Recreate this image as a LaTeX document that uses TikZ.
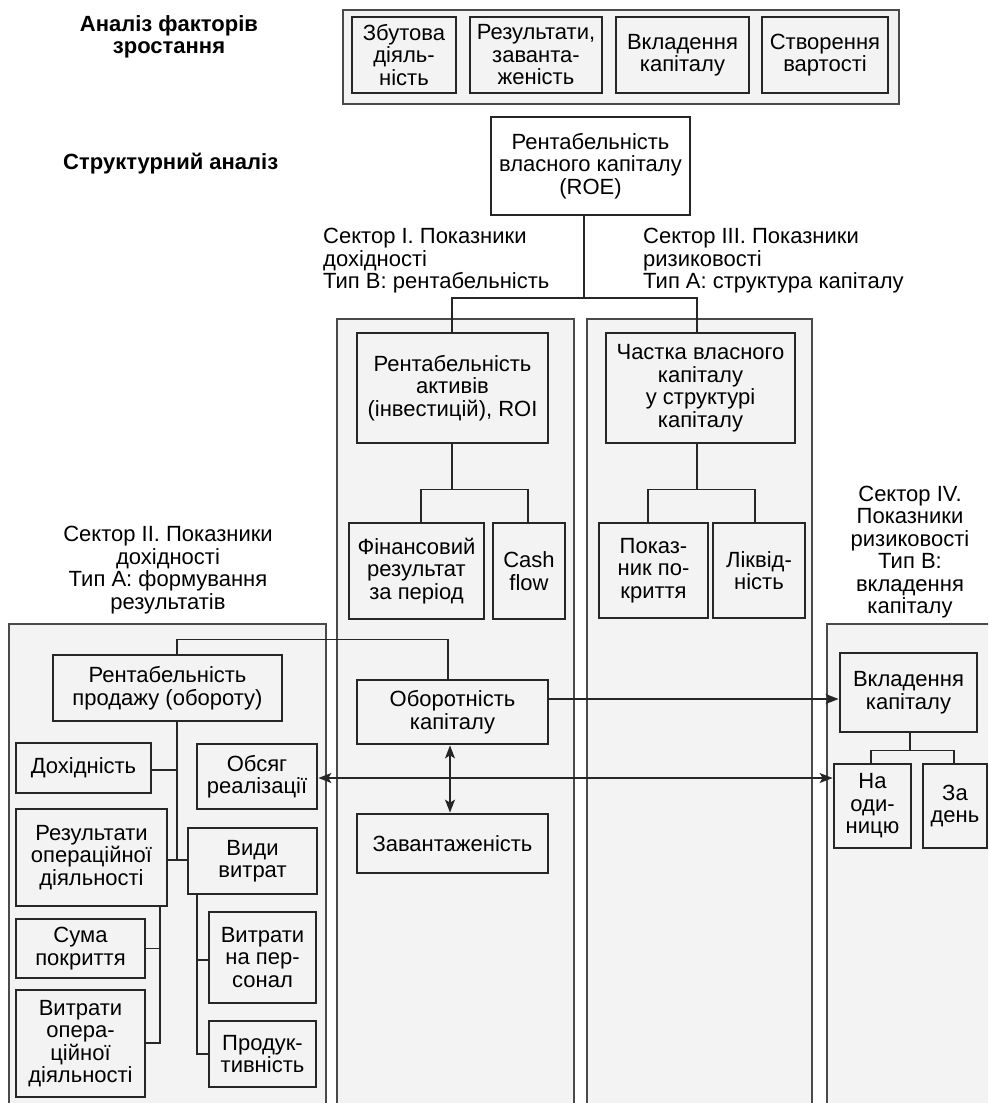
\documentclass[tikz,border=0pt]{standalone}
\usepackage{fontspec}
\setmainfont{Liberation Sans}
\usetikzlibrary{calc,positioning,arrows.meta}
\definecolor{panelgray}{HTML}{F3F3F3}
\definecolor{framegray}{HTML}{4A4A4A}
\tikzset{
  txt/.style={font=\fontsize{22}{22.5}\selectfont, align=center, inner sep=0pt},
  heading/.style={txt, font=\fontsize{22}{22.5}\selectfont\bfseries},
  box/.style={txt, draw=black!85, line width=2.8pt, fill=panelgray},
  panel/.style={draw=framegray, line width=1.3pt, fill=panelgray},
  link/.style={draw=black!85, line width=1.4pt},
}

\begin{document}
\begin{tikzpicture}[x=1pt,y=-1pt,>={Stealth[length=13pt,width=10pt,inset=3pt]}]
  \useasboundingbox (0,0) rectangle (988,1103);
  \clip (0,0) rectangle (988,1103);

  % Growth factors
  \node[heading] (growth) at (169,37) {Аналіз факторів\\зростання};
  \draw[panel] (343,10) rectangle (899,104);
  \node[box, minimum width=104, minimum height=76] (sales) at (404,55) {Збутова\\діяль-\\ність};
  \node[box, minimum width=132, minimum height=76] (results) at (536,55) {Результати,\\заванта-\\женість};
  \node[box, minimum width=133, minimum height=76] (capin) at (682.5,55) {Вкладення\\капіталу};
  \node[box, minimum width=126, minimum height=76] (value) at (825,55) {Створення\\вартості};

  % Structure analysis
  \node[heading, anchor=west] (structure) at (63,164) {Структурний аналіз};
  \node[box, fill=white, minimum width=199, minimum height=98] (roe) at (590.5,166) {Рентабельність\\власного капіталу\\(ROE)};

  % Sector labels
  \node[txt, align=left, anchor=west] (sec1) at (323,261) {Сектор I. Показники\\дохідності\\Тип В: рентабельність};
  \node[txt, align=left, anchor=west] (sec3) at (643,261) {Сектор III. Показники\\ризиковості\\Тип А: структура капіталу};
  \node[txt] (sec2) at (168,570) {Сектор II. Показники\\дохідності\\Тип А: формування\\результатів};
  \node[txt] (sec4) at (910,552) {Сектор IV.\\Показники\\ризиковості\\Тип В:\\вкладення\\капіталу};

  % Panels
  \draw[panel] (9,624) rectangle (326,1115);
  \draw[panel] (337,319) rectangle (574,1115);
  \draw[panel] (587,319) rectangle (812,1115);
  \draw[panel] (827,624) rectangle (1000,1115);

  % Sector I
  \node[box, minimum width=191, minimum height=110] (roa) at (452.5,388) {Рентабельність\\активів\\(інвестицій), ROI};
  \node[box, minimum width=135, minimum height=96] (finres) at (416.5,571) {Фінансовий\\результат\\за період};
  \node[box, minimum width=72, minimum height=96] (cash) at (529,571) {Cash\\flow};
  \node[box, minimum width=191, minimum height=64] (turn) at (452.5,712) {Оборотність\\капіталу};
  \node[box, minimum width=191, minimum height=59] (load) at (452.5,843.5) {Завантаженість};

  % Sector III
  \node[box, minimum width=189, minimum height=110] (share) at (700.5,388) {Частка власного\\капіталу\\у структурі\\капіталу};
  \node[box, minimum width=109, minimum height=95] (cover) at (653.5,570.5) {Показ-\\ник по-\\криття};
  \node[box, minimum width=92, minimum height=95] (liquid) at (759,570.5) {Ліквід-\\ність};

  % Sector II
  \node[box, minimum width=229, minimum height=66] (salesroi) at (167.5,688) {Рентабельність\\продажу (обороту)};
  \node[box, minimum width=135, minimum height=50] (yield) at (83.5,768) {Дохідність};
  \node[box, minimum width=120, minimum height=65] (volume) at (257,776.5) {Обсяг\\реалізації};
  \node[box, minimum width=151, minimum height=97] (opres) at (91.5,857.5) {Результати\\операційної\\діяльності};
  \node[box, minimum width=129, minimum height=66] (costs) at (252.5,861) {Види\\витрат};
  \node[box, minimum width=129, minimum height=59] (margin) at (80.5,948.5) {Сума\\покриття};
  \node[box, minimum width=129, minimum height=107] (opcost) at (80.5,1043.5) {Витрати\\опера-\\ційної\\діяльності};
  \node[box, minimum width=107, minimum height=91] (staff) at (262.5,957.5) {Витрати\\на пер-\\сонал};
  \node[box, minimum width=107, minimum height=66] (prod) at (262.5,1054) {Продук-\\тивність};

  % Sector IV
  \node[box, minimum width=137, minimum height=79] (invest) at (908.5,692.5) {Вкладення\\капіталу};
  \node[box, minimum width=77, minimum height=84] (perunit) at (872.5,806) {На\\оди-\\ницю};
  \node[box, minimum width=64, minimum height=84] (perday) at (955,806) {За\\день};

  % Tree links
  \coordinate (roefork) at (584,298);
  \draw[link] (roe.south -| roefork) -- (roefork);
  \draw[link] ([xshift=-0.5]roa.north) |- (roefork) -| ([xshift=-3.5]share.north);
  \draw[link] ([xshift=-0.5]roa.south) -- ++(0,45) coordinate (roafork);
  \draw[link] ([xshift=4.5]finres.north) |- (roafork) -| ([xshift=-1]cash.north);
  \draw[link] ([xshift=-3.5]share.south) -- ++(0,45) coordinate (sharefork);
  \draw[link] ([xshift=-5.5]cover.north) |- (sharefork) -| ([xshift=-4]liquid.north);
  \draw[link] ([xshift=1.5]invest.south) -- ++(0,17) coordinate (investfork);
  \draw[link] ([xshift=-1.5]perunit.north) |- (investfork) -| ([xshift=-1]perday.north);

  \coordinate (rpspine) at (177,860);
  \draw[link] (salesroi.south -| rpspine) -- (rpspine);
  \draw[link] (salesroi.north -| rpspine) -- ++(0,-14) -| ([xshift=-4.5]turn.north);
  \draw[link] ([yshift=-2]yield.east) -- ([yshift=-2]yield.east -| rpspine);
  \draw[link] (opres.east |- rpspine) -- (costs.west |- rpspine);
  \coordinate (opspine) at (160,1043);
  \draw[link] (opres.south -| opspine) -- (opspine) -- (opcost.east |- opspine);
  \draw[link] (margin.east) -- (margin.east -| opspine);
  \coordinate (costspine) at (197,1054);
  \draw[link] (costs.south -| costspine) -- (costspine) -- (prod.west);
  \draw[link] ([yshift=-2.5]staff.west) -- ([yshift=-2.5]staff.west -| costspine);

  % Arrows
  \draw[link,->] (turn.east |- 0,699) -- (invest.west |- 0,699);
  \draw[link,<->] (volume.east |- 0,778) -- (perunit.west |- 0,778);
  \draw[link,<->] ([xshift=-2.5]turn.south) -- ([xshift=-2.5]load.north);

\end{tikzpicture}
\end{document}
